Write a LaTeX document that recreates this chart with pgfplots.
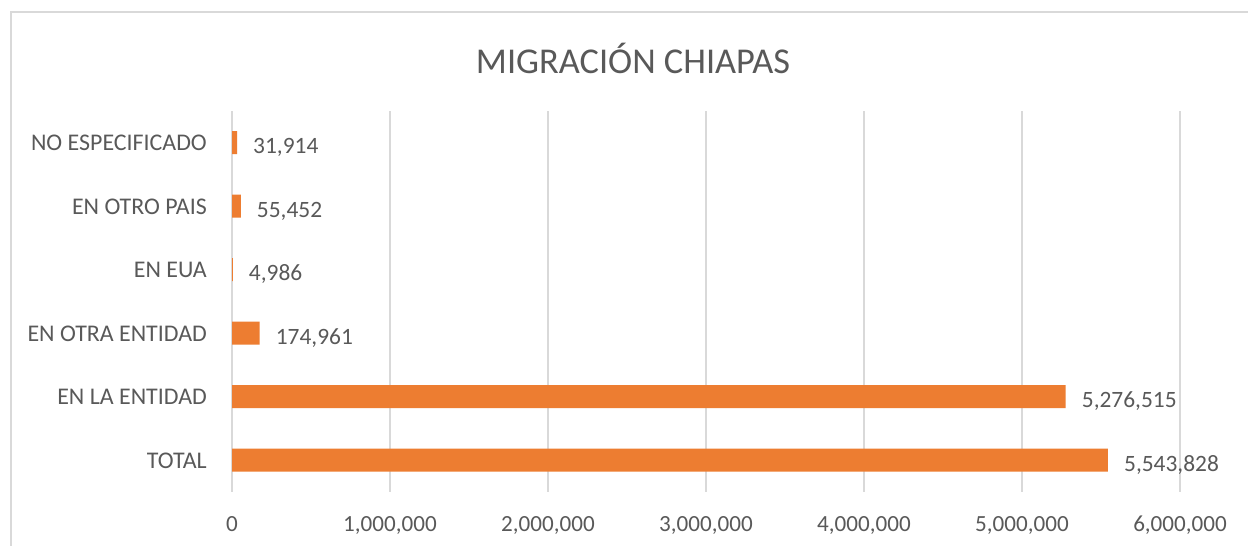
\documentclass[border=0pt]{standalone}
\usepackage{pgfplots}
\pgfplotsset{compat=1.18}
\usepackage{pgfplotstable}
\usepackage{fontspec}
\setmainfont{Carlito}
\definecolor{barc}{HTML}{ED7D31}
\definecolor{txt}{HTML}{595959}
\definecolor{grd}{HTML}{D9D9D9}
\pgfplotstableread{
i v lab
0 5543828 5,543,828
1 5276515 5,276,515
2 174961 174,961
3 4986 4,986
4 55452 55,452
5 31914 31,914
}\datatable
\begin{document}
\begin{tikzpicture}[x=1bp,y=1bp]
\useasboundingbox (0,0) rectangle (1248,546);
\fill[white] (0,0) rectangle (1248,546);
\draw[grd, line width=1.5bp] (11,-5) -- (11,534) -- (1260,534);
\node[text=txt, font=\fontsize{36.5}{44}\selectfont] at (633,488) {MIGRACIÓN CHIAPAS};
\begin{axis}[at={(232bp,54bp)}, anchor=south west, scale only axis,
  width=948bp, height=381bp,
  xbar, bar width=23bp,
  xmin=0, xmax=6000000, ymin=-0.5, ymax=5.5,
  xtick={0,1000000,2000000,3000000,4000000,5000000,6000000},
  xticklabels={0,{1,000,000},{2,000,000},{3,000,000},{4,000,000},{5,000,000},{6,000,000}},
  ytick={0,1,2,3,4,5},
  yticklabels={TOTAL,EN LA ENTIDAD,EN OTRA ENTIDAD,EN EUA,EN OTRO PAIS,NO ESPECIFICADO},
  xmajorgrids, grid style={grd, line width=1.5bp},
  axis line style={draw=none}, major tick length=0,
  xticklabel style={font=\fontsize{23.2}{28}\selectfont, text=txt, anchor=base, yshift=-39.5bp, inner sep=0pt},
  yticklabel style={font=\fontsize{24}{28}\selectfont, text=txt, anchor=base east, xshift=-25bp, yshift=-8bp, inner sep=0pt},
  point meta=explicit symbolic,
  nodes near coords,
  nodes near coords style={font=\fontsize{23.5}{28}\selectfont, text=txt, anchor=base west, inner sep=0pt, xshift=16bp, yshift=-11bp},
]
\addplot[fill=barc, draw=none] table[x=v, y=i, meta=lab] {\datatable};
\end{axis}
\end{tikzpicture}
\end{document}
